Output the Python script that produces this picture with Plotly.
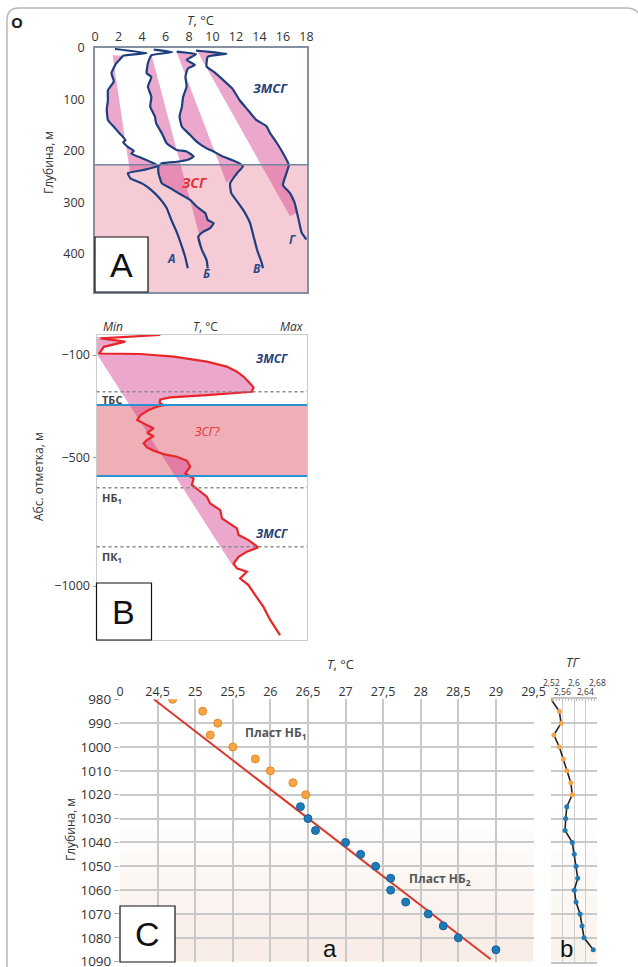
import plotly.graph_objects as go

W, H = 638, 967
def PX(p): return p / W
def PY(p): return 1 - p / H

# ---------------- Panel A data ----------------
a_T = [1.7, 4.4, 2.4, 2.2, 1.8, 1.4, 1.6, 1.1, 1.1, 1.0, 1.1, 1.6, 2.1, 2.6, 2.4, 2.8, 3.3, 3.1, 4.0, 4.7, 5.4, 4.1, 2.8, 3.0, 4.0, 4.8, 5.5, 6.1, 6.5, 7.0, 7.4, 7.7, 7.9]
a_d = [2, 10, 15, 20, 30, 49, 65, 82, 101, 120, 140, 153, 166, 179, 183, 192, 200, 205, 214, 221, 229, 237, 243, 253, 263, 276, 292, 311, 334, 360, 386, 408, 428]
b_T = [5.0, 6.6, 4.8, 4.5, 4.4, 4.8, 4.5, 4.8, 4.7, 5.1, 5.2, 5.7, 6.1, 6.95, 7.8, 8.4, 7.9, 6.95, 5.7, 5.4, 5.4, 5.7, 6.4, 7.1, 8.1, 8.65, 9.4, 9.6, 10.1, 9.8, 9.2, 8.8, 9.1, 9.5, 9.6]
b_d = [3, 8, 14, 30, 49, 56, 75, 95, 114, 133, 146, 166, 185, 198, 201, 211, 217, 221, 224, 230, 243, 263, 272, 282, 295, 308, 321, 334, 340, 350, 357, 366, 392, 412, 428]
v_T = [6.95, 8.6, 7.8, 8.5, 7.9, 7.7, 7.8, 7.5, 7.4, 7.2, 7.4, 8.1, 8.65, 9.5, 10.1, 10.9, 11.6, 12.3, 12.6, 12.1, 11.5, 11.6, 12.1, 12.6, 13.2, 13.5, 13.8, 14.2, 14.3]
v_d = [7, 12, 23, 33, 40, 56, 75, 95, 114, 133, 153, 169, 182, 195, 201, 211, 217, 224, 230, 243, 263, 282, 298, 314, 340, 366, 392, 418, 428]
g_T = [8.6, 11.2, 9.6, 9.5, 10.1, 10.9, 11.7, 12.3, 13.0, 13.7, 14.6, 14.9, 15.5, 16.0, 16.5, 16.3, 16.0, 16.6, 17.0, 17.2, 17.4, 17.6, 18.0]
g_d = [5, 11, 17, 36, 46, 62, 79, 101, 120, 139, 152, 165, 185, 204, 227, 243, 266, 282, 301, 320, 340, 359, 372]
# straight reference lines (T0, d0, T1, d1)
lines_A = {"A": (1.5, 14, 3.0, 245), "B": (4.8, 12, 8.9, 365),
           "V": (6.95, 8, 11.2, 262), "G": (8.65, 4, 16.6, 327)}
zsg_depth_A = 227
A_depth_max = 474
curve_labels_A = ["А", "Б", "В", "Г"]
curve_label_pos_A = [(6.5, 409), (9.5, 438), (13.8, 428), (16.8, 372)]

# ---------------- Panel B data ----------------
rB_X = [0.303, 0.098, 0.019, 0.137, 0.035, 0.019, 0.011, 0.209, 0.367, 0.524, 0.619, 0.667, 0.698, 0.722, 0.746, 0.738, 0.651, 0.524, 0.351, 0.303, 0.300, 0.319, 0.288, 0.248, 0.209, 0.193, 0.240, 0.272, 0.240, 0.272, 0.240, 0.224, 0.240, 0.272, 0.319, 0.382, 0.430, 0.445, 0.422, 0.461, 0.453, 0.493, 0.524, 0.540, 0.588, 0.596, 0.635, 0.667, 0.675, 0.722, 0.769, 0.714, 0.675, 0.651, 0.667, 0.714, 0.682, 0.722, 0.754, 0.793, 0.825, 0.872]
rB_v = [-22, -31, -35, -48, -68, -87, -94, -96, -106, -126, -145, -165, -184, -204, -226, -243, -249, -256, -265, -273, -286, -295, -301, -314, -334, -353, -373, -386, -403, -416, -431, -444, -460, -473, -486, -496, -512, -535, -561, -581, -606, -632, -652, -678, -704, -736, -756, -775, -801, -821, -849, -866, -886, -912, -931, -944, -970, -996, -1035, -1081, -1132, -1191]
lineB = (0.0, -94, 0.65, -925)
B_blue_lines = [-295, -571]
B_dotted_lines = [-243, -617, -847]
B_range = (-1210, -22)

# ---------------- Panel C data ----------------
orange_T = [24.7, 25.1, 25.3, 25.2, 25.5, 25.8, 26.0, 26.3, 26.47]
orange_d = [980, 985, 990, 995, 1000, 1005, 1010, 1015, 1020]
blue_T = [26.4, 26.5, 26.6, 27.0, 27.2, 27.4, 27.6, 27.6, 27.8, 28.1, 28.3, 28.5, 29.0]
blue_d = [1025, 1030, 1035, 1040, 1045, 1050, 1055, 1060, 1065, 1070, 1075, 1080, 1085]
fit_T = [24.45, 28.93]
fit_d = [980, 1089]
tg_vals = [2.52, 2.549, 2.555, 2.530, 2.549, 2.563, 2.575, 2.589, 2.594, 2.575, 2.571, 2.569, 2.594, 2.601, 2.607, 2.613, 2.601, 2.607, 2.621, 2.628, 2.635, 2.667]
tg_depth = [980, 985, 990, 995, 1000, 1005, 1010, 1015, 1020, 1025, 1030, 1035, 1040, 1045, 1050, 1055, 1060, 1065, 1070, 1075, 1080, 1085]
n_orange_tg = 9
C_xticks = [24, 24.5, 25, 25.5, 26, 26.5, 27, 27.5, 28, 28.5, 29, 29.5]
C_xtext = ["0", "24,5", "25", "25,5", "26", "26,5", "27", "27,5", "28", "28,5", "29", "29,5"]
tg_row1 = [2.52, 2.60, 2.68]
tg_row2 = [2.56, 2.64]

BLUE = "#1e3f7e"
WEDGE = "rgba(212,62,142,0.45)"
FONT = "Open Sans"

fig = go.Figure()

# ---- Panel A wedges and curves ----
curvesA = [(a_T, a_d, "A"), (b_T, b_d, "B"), (v_T, v_d, "V"), (g_T, g_d, "G")]
for T, d, key in curvesA:
    T0, d0, T1, d1 = lines_A[key]
    px_ = [T0] + [t for t, dd in zip(T, d) if d0 < dd < d1] + [T1]
    py_ = [d0] + [dd for t, dd in zip(T, d) if d0 < dd < d1] + [d1]
    fig.add_trace(go.Scatter(x=px_, y=py_, fill="toself", fillcolor=WEDGE, mode="none",
                             xaxis="x", yaxis="y", hoverinfo="skip", showlegend=False))
for T, d, key in curvesA:
    fig.add_trace(go.Scatter(x=T, y=d, mode="lines", line=dict(color=BLUE, width=2.2, shape="spline", smoothing=0.4),
                             xaxis="x", yaxis="y", showlegend=False))

# ---- Panel B ----
X0, v0, X1, v1 = lineB
wx = [0.0] + [x for x, v in zip(rB_X, rB_v) if v1 < v < -30] + [X1, X0]
wy = [-30] + [v for x, v in zip(rB_X, rB_v) if v1 < v < -30] + [v1, v0]
fig.add_trace(go.Scatter(x=wx, y=wy, fill="toself", fillcolor=WEDGE, mode="none",
                         xaxis="x2", yaxis="y2", hoverinfo="skip", showlegend=False))
fig.add_trace(go.Scatter(x=rB_X, y=rB_v, mode="lines", line=dict(color="#e8262a", width=2.2),
                         xaxis="x2", yaxis="y2", showlegend=False))

# ---- Panel C a ----
fig.add_trace(go.Scatter(x=fit_T, y=fit_d, mode="lines", line=dict(color="#d83a2e", width=2),
                         xaxis="x3", yaxis="y3", showlegend=False))
fig.add_trace(go.Scatter(x=orange_T, y=orange_d, mode="markers",
                         marker=dict(color="#f6a545", size=8, line=dict(color="#e08a2a", width=1)),
                         xaxis="x3", yaxis="y3", showlegend=False))
fig.add_trace(go.Scatter(x=blue_T, y=blue_d, mode="markers",
                         marker=dict(color="#1f7ab8", size=8, line=dict(color="#16639a", width=1)),
                         xaxis="x3", yaxis="y3", showlegend=False))

# ---- Panel C b ----
fig.add_trace(go.Scatter(x=tg_vals, y=tg_depth, mode="lines", line=dict(color="#222", width=1.6),
                         xaxis="x4", yaxis="y4", showlegend=False))
fig.add_trace(go.Scatter(x=tg_vals[:n_orange_tg], y=tg_depth[:n_orange_tg], mode="markers",
                         marker=dict(color="#f6a545", size=5), xaxis="x4", yaxis="y4", showlegend=False))
fig.add_trace(go.Scatter(x=tg_vals[n_orange_tg:], y=tg_depth[n_orange_tg:], mode="markers",
                         marker=dict(color="#1f7ab8", size=5), xaxis="x4", yaxis="y4", showlegend=False))

shapes = []
# outer frame
shapes.append(dict(type="path", xref="paper", yref="paper",
                   path=f"M {PX(7)} {PY(975)} L {PX(7)} {PY(20)} Q {PX(7)} {PY(8)} {PX(19)} {PY(8)} "
                        f"L {PX(626)} {PY(8)} Q {PX(637)} {PY(8)} {PX(640)} {PY(16)}",
                   line=dict(color="#b8b8b8", width=1.5)))
# A: ZSG zone
shapes.append(dict(type="rect", xref="x", yref="y", x0=0, x1=18.05, y0=zsg_depth_A, y1=A_depth_max,
                   fillcolor="#f5ccd5", line=dict(width=0), layer="below"))
shapes.append(dict(type="line", xref="x", yref="y", x0=0, x1=18.05, y0=zsg_depth_A, y1=zsg_depth_A,
                   line=dict(color="#7585a0", width=1.5)))
# B zones
shapes.append(dict(type="rect", xref="x2", yref="y2", x0=0, x1=1, y0=B_blue_lines[0], y1=B_blue_lines[1],
                   fillcolor="#eeafb7", line=dict(width=0), layer="below"))
for v in B_dotted_lines:
    shapes.append(dict(type="line", xref="x2", yref="y2", x0=0, x1=1, y0=v, y1=v,
                       line=dict(color="#8a8a8a", width=1.5, dash="dot")))
for v in B_blue_lines:
    shapes.append(dict(type="line", xref="x2", yref="y2", x0=0, x1=1, y0=v, y1=v,
                       line=dict(color="#2a92d2", width=2)))
# C a tint (stepped)
for k in range(6):
    shapes.append(dict(type="rect", xref="x3", yref="y3", x0=24, x1=29.5, y0=1035 + 9 * k, y1=1090,
                       fillcolor="rgba(238,200,178,0.055)", line=dict(width=0), layer="below"))
    shapes.append(dict(type="rect", xref="x4", yref="y4", x0=2.52, x1=2.68, y0=1035 + 9 * k, y1=1090,
                       fillcolor="rgba(238,200,178,0.045)", line=dict(width=0), layer="below"))
# label boxes
for (x0, y0, x1, y1) in [(95, 237, 148, 292), (96.5, 583, 151.5, 640), (120, 906, 175, 962)]:
    shapes.append(dict(type="rect", xref="paper", yref="paper", x0=PX(x0), x1=PX(x1), y0=PY(y1), y1=PY(y0),
                       fillcolor="white", line=dict(color="#111", width=1.2)))

ann = []
def A(x, y, text, size=12, color="#333", **kw):
    d = dict(x=PX(x), y=PY(y), xref="paper", yref="paper", text=text, showarrow=False,
             xanchor="center", yanchor="middle",
             font=dict(size=size, color=color, family=kw.pop("family", FONT)))
    d.update(kw)
    ann.append(d)

A(17, 22, "<b>O</b>", 15, "#222")
A(200, 20, "<i>T</i>, °C", 13, "#333")
A(48, 163, "Глубина, м", 12, "#333", textangle=-90)
A(270, 88, "<b><i>ЗМСГ</i></b>", 13, "#1f3f7a")
A(195, 182, "<b><i>ЗСГ</i></b>", 14, "#e8303a")
for lab, (tx, dy) in zip(curve_labels_A, curve_label_pos_A):
    ann.append(dict(x=tx, y=dy, xref="x", yref="y", text=f"<b><i>{lab}</i></b>", showarrow=False,
                    xanchor="center", yanchor="middle",
                    font=dict(size=12, color="#2a4a8a", family=FONT)))
A(121.5, 265, "A", 34, "#111", family="Liberation Sans")
# B
A(113, 326, "<i>Min</i>", 12, "#333")
A(205, 326, "<i>T</i>, °C", 12, "#333")
A(292, 326, "<i>Max</i>", 12, "#333")
A(38, 477, "Абс. отметка, м", 12, "#333", textangle=-90)
A(272, 358, "<b><i>ЗМСГ</i></b>", 12, "#1f3f7a")
A(272, 533, "<b><i>ЗМСГ</i></b>", 12, "#1f3f7a")
A(207, 432, "<i>ЗСГ?</i>", 12, "#e8303a")
A(100, 399, "<b>ТБС</b>", 11, "#444", xanchor="left")
A(100, 498, "<b>НБ<sub>1</sub></b>", 11, "#444", xanchor="left")
A(100, 557, "<b>ПК<sub>1</sub></b>", 11, "#444", xanchor="left")
A(124, 612, "B", 34, "#111", family="Liberation Sans")
# C
A(340, 664, "<i>T</i>, °C", 13, "#333")
A(70, 830, "Глубина, м", 12, "#333", textangle=-90)
ann.append(dict(x=26.08, y=994, xref="x3", yref="y3", text="<b>Пласт НБ<sub>1</sub></b>", showarrow=False,
                xanchor="center", yanchor="middle", font=dict(size=12, color="#555", family=FONT)))
ann.append(dict(x=28.25, y=1055.5, xref="x3", yref="y3", text="<b>Пласт НБ<sub>2</sub></b>", showarrow=False,
                xanchor="center", yanchor="middle", font=dict(size=12, color="#555", family=FONT)))
A(147.5, 934, "C", 34, "#111", family="Liberation Sans")
A(330, 948, "a", 24, "#111", family="Liberation Sans")
A(566.5, 948, "b", 24, "#111", family="Liberation Sans")
A(573, 662, "<i>ТГ</i>", 13, "#333")
for v in tg_row1:
    ann.append(dict(x=v, y=PY(682), xref="x4", yref="paper", text=f"{v:g}".replace(".", ","), showarrow=False,
                    xanchor="center", yanchor="middle", font=dict(size=8.5, color="#333", family=FONT)))
for v in tg_row2:
    ann.append(dict(x=v, y=PY(691), xref="x4", yref="paper", text=f"{v:g}".replace(".", ","), showarrow=False,
                    xanchor="center", yanchor="middle", font=dict(size=8.5, color="#333", family=FONT)))

tickfont = dict(size=12.5, color="#333", family=FONT)
fig.update_layout(
    width=W, height=H, margin=dict(l=0, r=0, t=0, b=0, autoexpand=False),
    paper_bgcolor="white", plot_bgcolor="white",
    font=dict(family=FONT),
    shapes=shapes, annotations=ann, showlegend=False,
    # Panel A
    xaxis=dict(domain=[PX(95), PX(307)], anchor="y", range=[0, 18.05], side="top", automargin=False,
               tickvals=list(range(0, 19, 2)), tickfont=tickfont, showgrid=False, zeroline=False,
               showline=True, mirror=True, linecolor="#8590a3", linewidth=1.5, ticks=""),
    yaxis=dict(domain=[PY(292), PY(48)], anchor="x", range=[A_depth_max, 0], automargin=False,
               tickvals=[0, 100, 200, 300, 400], tickfont=tickfont, showgrid=False, zeroline=False,
               showline=True, mirror=True, linecolor="#8590a3", linewidth=1.5, ticks="", ticklabelstandoff=6),
    # Panel B
    xaxis2=dict(domain=[PX(96.5), PX(307)], anchor="y2", range=[0, 1], showticklabels=False, automargin=False,
                showgrid=False, zeroline=False, showline=True, mirror=True, linecolor="#cccccc", ticks=""),
    yaxis2=dict(domain=[PY(640), PY(335)], anchor="x2", range=list(B_range), automargin=False,
                tickvals=[-100, -500, -1000], ticktext=["−100", "−500", "−1000"], tickfont=tickfont,
                showgrid=False, zeroline=False, showline=True, mirror=True, linecolor="#cccccc",
                ticks="outside", ticklen=3, tickcolor="#999"),
    # Panel C a
    xaxis3=dict(domain=[PX(120), PX(533.5)], anchor="y3", range=[24, 29.5], side="top", automargin=False,
                tickvals=C_xticks, ticktext=C_xtext, tickfont=tickfont, showgrid=True,
                gridcolor="#c9c9c9", gridwidth=1.6, zeroline=False, showline=False, ticks=""),
    yaxis3=dict(domain=[PY(961.7), PY(699.3)], anchor="x3", range=[1090, 980], dtick=10, automargin=False,
                ticklabeloverflow="allow",
                tickfont=dict(size=13.5, color="#333", family=FONT), showgrid=True, gridcolor="#c9c9c9",
                gridwidth=1.6, zeroline=False, showline=False, ticks="outside", ticklen=5, tickcolor="#aaa"),
    # Panel C b
    xaxis4=dict(domain=[PX(551), PX(597)], anchor="y4", range=[2.52, 2.68], side="top", automargin=False,
                showticklabels=False, tickvals=[2.52, 2.56, 2.60, 2.64, 2.68], showgrid=True,
                gridcolor="#cfcfcf", gridwidth=1.2, zeroline=False, showline=True, mirror=True,
                linecolor="#c4c4c4", linewidth=1.5, ticks="inside", ticklen=3, tickcolor="#bbb",
                minor=dict(dtick=0.01, ticks="inside", ticklen=2, tickcolor="#bbb", showgrid=False)),
    yaxis4=dict(domain=[PY(961.7), PY(699.3)], anchor="x4", range=[1090, 980], dtick=10, automargin=False,
                showticklabels=False, showgrid=True, gridcolor="#c9c9c9", gridwidth=1.6, zeroline=False,
                showline=False, ticks=""),
)

fig.write_html("out.html", config={"displayModeBar": False},
               post_script="document.body.style.margin='0';document.body.style.overflow='hidden';")
